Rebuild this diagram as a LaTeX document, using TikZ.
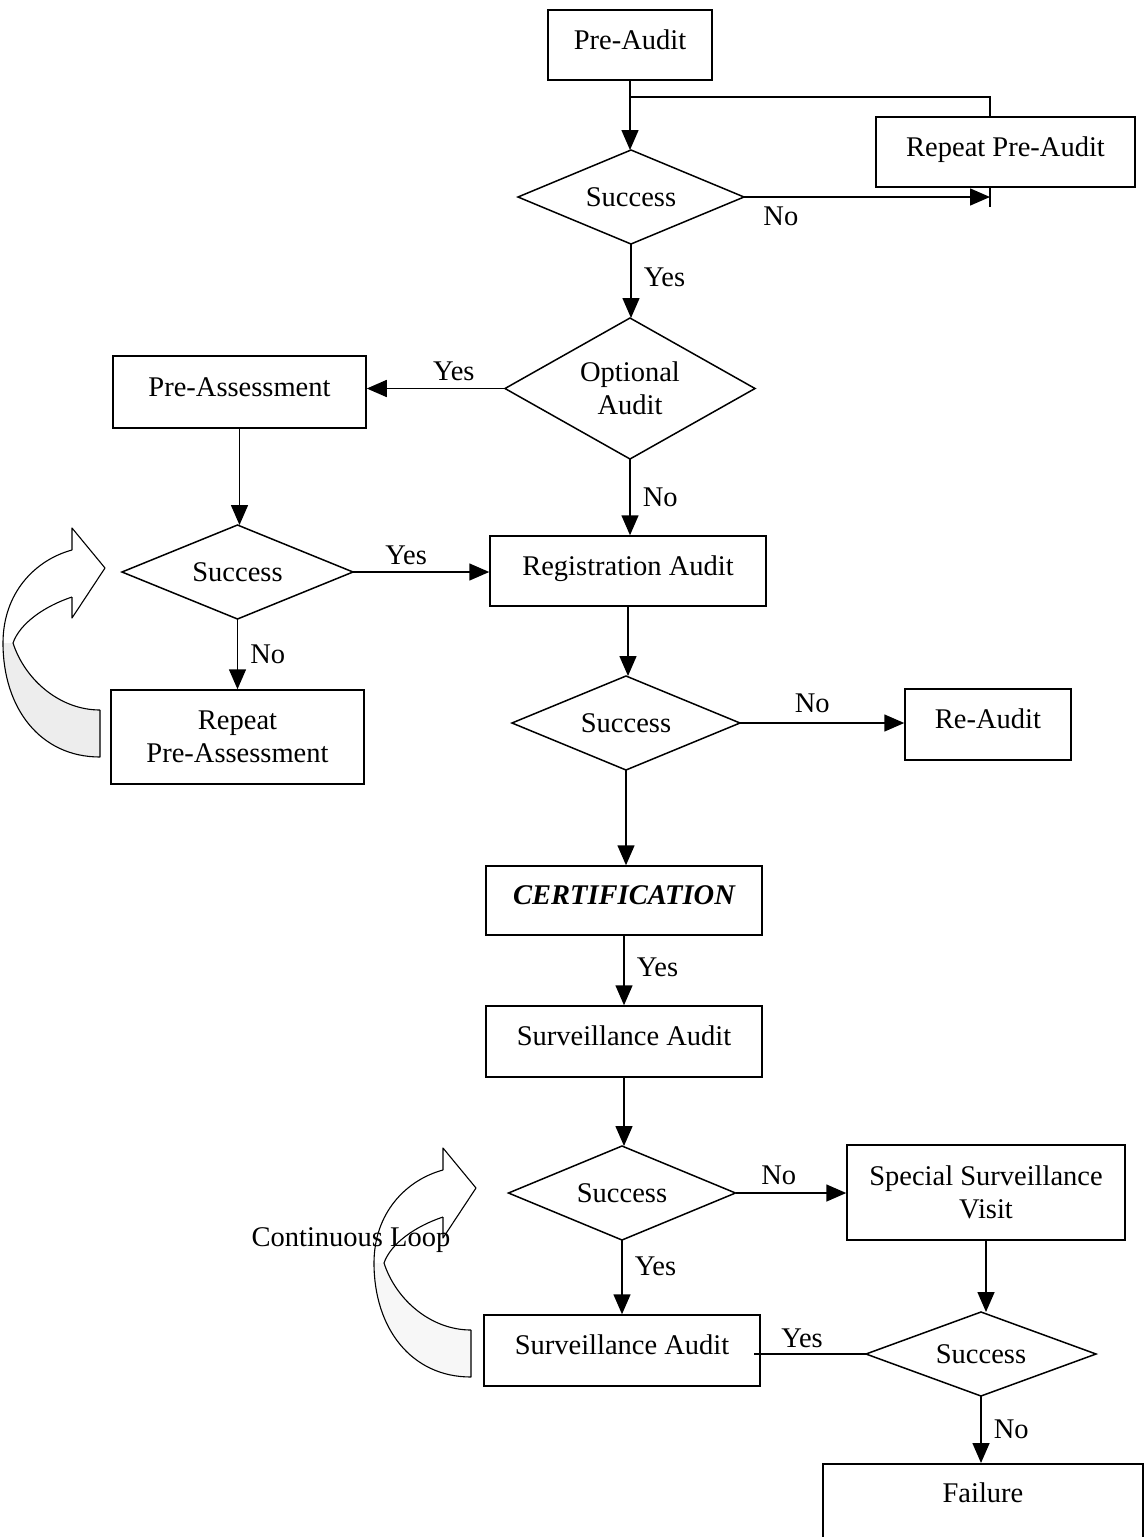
\documentclass[tikz,border=0pt]{standalone}
\usepackage{fontspec}
\setmainfont{Liberation Serif}
\usetikzlibrary{shapes.geometric,arrows.meta,calc}

% curved ribbon arrow, tip at (#1,#2), underside filled with #3
\newcommand\loopribbon[3]{%
  \begin{scope}[shift={(#1,#2)}, line width=1.1pt, line join=round]
    \fill[#3] (-102,75) .. controls (-102,140) and (-65,189) .. (-5,189)
      -- (-5,142) .. controls (-45,142) and (-80,112) .. (-92,75) -- cycle;
    \draw (-33,-18) -- (-33,-40) -- (0,0) -- (-33,50) -- (-33,29);
    \draw (-33,-18) .. controls (-70,-8) and (-102,25) .. (-102,75)
      .. controls (-102,140) and (-65,189) .. (-5,189) -- (-5,142);
    \draw (-33,29) .. controls (-60,38) and (-85,55) .. (-92,75)
      .. controls (-80,112) and (-45,142) .. (-5,142);
  \end{scope}}

\begin{document}
\begin{tikzpicture}[x=1pt,y=-1pt,
  font=\fontsize{28.5}{33}\selectfont,
  line width=1.5pt,
  box/.style={draw, rectangle, inner sep=0pt, text height=20pt, text depth=12pt},
  box2/.style={draw, rectangle, inner sep=0pt, align=center},
  dia/.style={draw, diamond, inner sep=0pt, outer sep=0pt, aspect=2.4, align=center},
  arr/.style={-{Triangle[length=20pt,width=17pt]}},
  lbl/.style={inner sep=2pt}]
\clip (0,0) rectangle (1144,1537);
\fill[white] (0,0) rectangle (1144,1537);

% boxes
\node[box, minimum width=164pt, minimum height=70pt] (preaudit) at (630,45) {Pre-Audit};
\node[box, minimum width=259pt, minimum height=70pt] (repeatpa) at (1005.5,152) {Repeat Pre-Audit};
\node[box, minimum width=253pt, minimum height=72pt] (preassess) at (239.5,392) {Pre-Assessment};
\node[box, minimum width=276pt, minimum height=70pt] (regaudit) at (628,571) {Registration Audit};
\node[box2, minimum width=253pt, minimum height=94pt] (repeatpas) at (237.5,737) {Repeat\\Pre-Assessment};
\node[box, minimum width=166pt, minimum height=71pt] (reaudit) at (988,724.5) {Re-Audit};
\node[box, minimum width=276pt, minimum height=69pt, font=\fontsize{28.5}{33}\selectfont\bfseries\itshape] (cert) at (624,900.5) {CERTIFICATION};
\node[box, minimum width=276pt, minimum height=71pt] (survA) at (624,1041.5) {Surveillance Audit};
\node[box2, minimum width=278pt, minimum height=95pt] (special) at (986,1192.5) {Special Surveillance\\Visit};
\node[box, minimum width=276pt, minimum height=71pt] (survB) at (622,1350.5) {Surveillance Audit};
\node[box, minimum width=320pt, minimum height=90pt, text depth=33pt, anchor=north] (failure) at (983,1463) {Failure};

% decisions
\node[dia, minimum width=226pt, minimum height=94pt] (s1) at (631,197) {Success};
\node[dia, aspect=1.77, minimum width=250pt, minimum height=141pt] (optional) at (630,388.5) {Optional\\Audit};
\node[dia, minimum width=231pt, minimum height=94pt] (s2) at (237.5,572) {Success};
\node[dia, minimum width=228pt, minimum height=94pt] (s3) at (626,723) {Success};
\node[dia, minimum width=227pt, minimum height=94pt] (s4) at (622,1193) {Success};
\node[dia, aspect=2.7, minimum width=230pt, minimum height=84pt] (s5) at (981,1354) {Success};

% top loop round the pre-audit
\coordinate (br) at (preaudit.south |- 0,97);
\coordinate (rpin) at ($(repeatpa.south)+(-15.5,11)$);
\draw[arr] (preaudit.south) -- (preaudit.south |- s1.north);
\draw (br) -| ($(repeatpa.north)+(-15.5,0)$);
\draw ($(repeatpa.south)+(-15.5,0)$) -- ++(0,19);
\draw[arr] (s1.east) -- (s1.east -| rpin)
  node[lbl, below, pos=0.15, yshift=-7pt] {No};

\draw[arr] (s1.south) -- (s1.south |- optional.north)
  node[lbl, right, pos=0.45, xshift=10pt] {Yes};
\draw[arr] (optional.west) -- (optional.west -| preassess.east)
  node[lbl, above, pos=0.37, yshift=5pt] {Yes};
\draw[arr] (optional.south) -- (optional.south |- regaudit.north)
  node[lbl, right, midway, xshift=10pt] {No};
\draw[arr] (preassess.south) -- (preassess.south |- s2.north);
\draw[arr] (s2.east) -- (s2.east -| regaudit.west)
  node[lbl, above, pos=0.39, yshift=4pt] {Yes};
\draw[arr] (s2.south) -- (s2.south |- repeatpas.north)
  node[lbl, right, midway, xshift=10pt] {No};
\draw[arr] (regaudit.south) -- (regaudit.south |- s3.north);
\draw[arr] (s3.east) -- (s3.east -| reaudit.west)
  node[lbl, above, pos=0.44, yshift=7pt] {No};
\draw[arr] (s3.south) -- (s3.south |- cert.north);
\draw[arr] (cert.south) -- (cert.south |- survA.north)
  node[lbl, right, pos=0.45, xshift=10pt] {Yes};
\draw[arr] (survA.south) -- (survA.south |- s4.north);
\draw[arr] (s4.east) -- (s4.east -| special.west)
  node[lbl, above, pos=0.39, yshift=5pt] {No};
\draw[arr] (s4.south) -- (s4.south |- survB.north)
  node[lbl, right, pos=0.35, xshift=10pt] {Yes};
\draw[arr] (special.south) -- (special.south |- s5.north);
\draw (s5.west) -- ([xshift=-7pt]s5.west -| survB.east)
  node[lbl, above, pos=0.57, yshift=3pt] {Yes};
\draw[arr] (s5.south) -- (s5.south |- failure.north)
  node[lbl, right, midway, xshift=10pt] {No};

% curved loop arrows
\loopribbon{105}{568}{gray!14}
\loopribbon{476}{1188}{gray!6}
\node (cloop) at (351,1240) {Continuous Loop};
\end{tikzpicture}
\end{document}
